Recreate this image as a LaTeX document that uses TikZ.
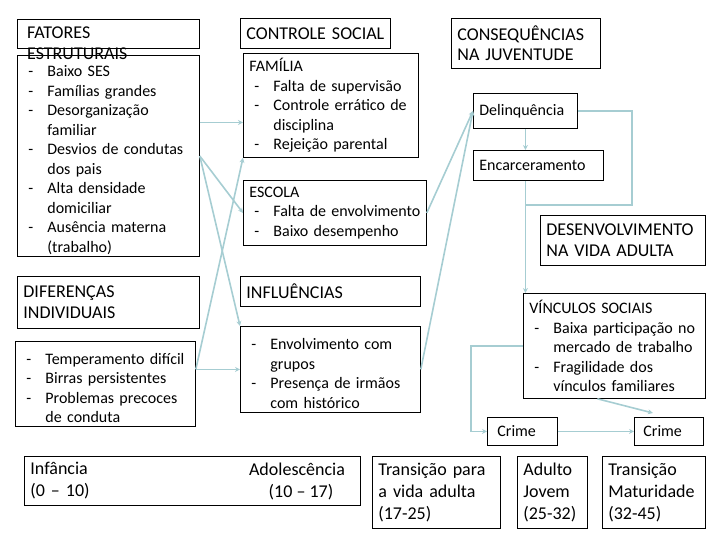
\documentclass[tikz,border=0pt]{standalone}
\usepackage{fontspec}
\setmainfont{Carlito}
\usetikzlibrary{arrows.meta}
\setlength{\parindent}{0pt}
\definecolor{linkblue}{RGB}{166,205,210}
\newcommand{\bodyfont}{\fontsize{16}{19.5}\selectfont}
\newcommand{\ttlfont}{\fontsize{18}{20.5}\selectfont}
\newcommand{\agefont}{\fontsize{18}{22}\selectfont}
\newcommand{\li}[1]{\par\hangindent=24pt\hangafter=1\noindent\makebox[24pt][l]{\hspace{5pt}-}#1\par}
\tikzset{
  box/.style={draw, line width=0.8pt, anchor=north west, align=left, inner xsep=6pt, inner ysep=2pt, font=\bodyfont},
  ttl/.style={box, font=\ttlfont},
  age/.style={box, font=\agefont},
  ttlbare/.style={anchor=north west, align=left, font=\ttlfont, inner xsep=10pt, inner ysep=8pt},
  link/.style={linkblue, line width=1.6pt, -{Stealth[length=5pt,width=5pt]}},
  plainlink/.style={linkblue, line width=1.6pt},
}
\begin{document}
\begin{tikzpicture}[x=1pt,y=-1pt]
\useasboundingbox (0,0) rectangle (720,540);
\node[ttl, text width=170pt, minimum height=29pt, label={[ttlbare]north west:{FATORES\\ESTRUTURAIS}}] (estrTitle) at (17,19) {};
\node[box, text width=170pt, minimum height=200pt] (estrList) at (17,55) {\li{Baixo SES}\li{Famílias grandes}\li{Desorganização\newline familiar}\li{Desvios de condutas\newline dos pais}\li{Alta densidade\newline domiciliar}\li{Ausência materna\newline (trabalho)}};
\node[ttl, text width=138pt, minimum height=30pt] (ctrlTitle) at (240,18) {CONTROLE SOCIAL};
\node[box, text width=163pt, minimum height=104pt] (familia) at (243,53) {FAMÍLIA\li{Falta de supervisão}\li{Controle errático de\newline disciplina}\li{Rejeição parental}};
\node[box, text width=171pt, minimum height=65pt] (escola) at (243,180) {ESCOLA\li{Falta de envolvimento}\li{Baixo desempenho}};
\node[ttl, text width=137pt, minimum height=50pt] (conseq) at (451,18) {CONSEQUÊNCIAS\\NA JUVENTUDE};
\node[box, text width=92pt, minimum height=35pt] (delinq) at (473,93) {Delinquência};
\node[box, text width=118pt, minimum height=30pt] (encarc) at (473,150) {Encarceramento};
\node[ttl, text width=153pt, minimum height=50pt] (desenv) at (540,215) {DESENVOLVIMENTO\\NA VIDA ADULTA};
\node[ttl, text width=170pt, minimum height=52pt] (difTitle) at (17,276) {DIFERENÇAS\\INDIVIDUAIS};
\node[box, text width=168pt, minimum height=85pt] (difList) at (15,341) {\li{Temperamento difícil}\li{Birras persistentes}\li{Problemas precoces\newline de conduta}};
\node[ttl, text width=168pt, minimum height=30pt] (inflTitle) at (240,276) {INFLUÊNCIAS};
\node[box, text width=168pt, minimum height=86pt] (grupos) at (240,326) {\li{Envolvimento com\newline grupos}\li{Presença de irmãos\newline com histórico}};
\node[box, text width=170pt, minimum height=105pt] (vinculos) at (523,293) {VÍNCULOS SOCIAIS\li{Baixa participação no\newline mercado de trabalho}\li{Fragilidade dos\newline vínculos familiares}};
\node[box, text width=58pt, minimum height=28pt, inner xsep=6pt] (crime1) at (487,417) {\hspace{4pt}Crime};
\node[box, text width=57pt, minimum height=28pt] (crime2) at (634,417) {\hspace{3pt}Crime};
\node[age, text width=324pt, minimum height=49pt] (infancia) at (24,456) {Infância\\(0 -- 10)};
\node[font=\agefont, align=center] (adol) at (297,481) {Adolescência\\\hspace{8pt}(10 -- 17)};
\node[age, text width=116pt, minimum height=72pt] (transicao) at (372,456) {Transição para\\a vida adulta\\(17-25)};
\node[age, text width=58pt, minimum height=72pt] (adulto) at (517,456) {Adulto\\Jovem\\(25-32)};
\node[age, text width=91pt, minimum height=72pt] (maturidade) at (602,456) {Transição\\Maturidade\\(32-45)};
\draw[link] (estrList.east |- familia.191) -- (familia.191);
\draw[link] (estrList.east) -- (escola.west);
\draw[link] (estrList.east) -- (grupos.north west);
\draw[link] (difList.east |- grupos.west) -- (grupos.west);
\draw[link] (difList.east |- grupos.west) -- (familia.south west);
\draw[link] (escola.east) -- (delinq.west);
\draw[link] (grupos.east) -- (delinq.west);
\draw[link] (delinq.south) -- (delinq.south |- encarc.north);
\draw[link] (delinq.south |- encarc.south) -- (delinq.south |- vinculos.north);
\coordinate (merge) at (delinq.south |- 0,205);
\draw[plainlink] (delinq.east) -- ++(54,0) |- (merge);
\draw[link] (vinculos.west) -- ++(-52,0) |- (crime1.west);
\draw[link] (crime1.east) -- (crime2.west);
\draw[link] ([xshift=-17pt]vinculos.south) -- ([xshift=-16pt,yshift=4pt]crime2.north);
\end{tikzpicture}
\end{document}
